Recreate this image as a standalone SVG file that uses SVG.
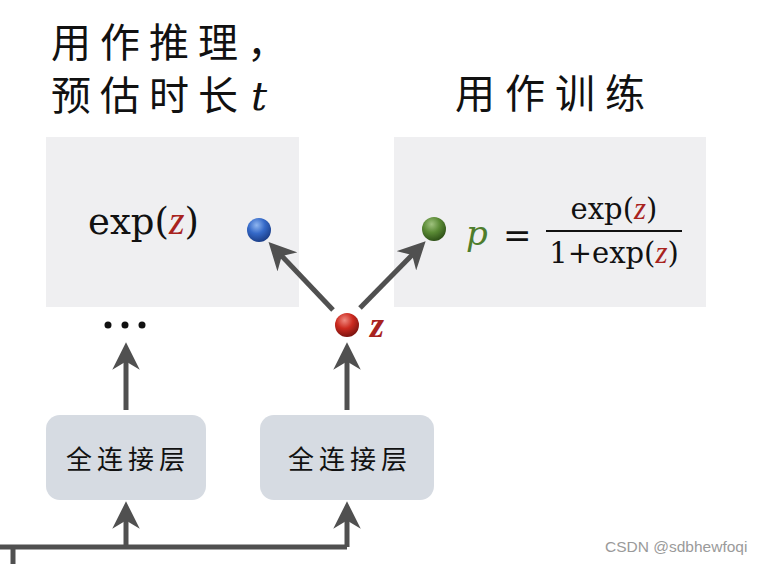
<svg xmlns="http://www.w3.org/2000/svg" width="760" height="564" viewBox="0 0 760 564">
<style>
.cjk{font-family:"Noto Sans CJK SC","Noto Sans",sans-serif;fill:#111}
.math{font-family:"DejaVu Serif","Liberation Serif",serif;fill:#111}
.zr{fill:#a8231e;font-style:italic;font-family:"Liberation Serif","DejaVu Serif",serif}
.panel{fill:#efeff1}
.box{fill:#d6dbe2}
.conn{stroke:#505050;stroke-width:5;fill:none}
</style>
<defs>
<marker id="ah" viewBox="0 0 10 10" refX="5" refY="5" markerWidth="5.5" markerHeight="5.5" orient="auto" markerUnits="strokeWidth">
<path d="M0,0 L10,5 L0,10 L3,5 Z" fill="#505050"/>
</marker>
<radialGradient id="gb" cx="0.4" cy="0.3" r="0.7"><stop offset="0" stop-color="#8fb6f0"/><stop offset="0.5" stop-color="#3569c8"/><stop offset="1" stop-color="#1c3f8a"/></radialGradient>
<radialGradient id="gg" cx="0.4" cy="0.3" r="0.7"><stop offset="0" stop-color="#9fc27e"/><stop offset="0.5" stop-color="#5a8a35"/><stop offset="1" stop-color="#2f5218"/></radialGradient>
<radialGradient id="gr" cx="0.4" cy="0.3" r="0.7"><stop offset="0" stop-color="#f08a80"/><stop offset="0.5" stop-color="#cc2a1f"/><stop offset="1" stop-color="#7d1410"/></radialGradient>
</defs>
<rect width="760" height="564" fill="#ffffff"/>

<g id="title-left">
<text class="cjk" x="51" y="57" font-size="40" letter-spacing="9">用作推理，</text>
<text class="cjk" x="51" y="110" font-size="40" letter-spacing="9">预估时长<tspan class="math" font-style="italic" font-size="40" dx="4">t</tspan></text>
</g>
<g id="title-right">
<text class="cjk" x="455" y="108" font-size="40" letter-spacing="10">用作训练</text>
</g>

<g id="panel-infer">
<rect class="panel" x="46" y="137" width="253" height="170"/>
<text class="math" x="88" y="234" font-size="37">exp(<tspan class="zr" font-size="40">z</tspan>)</text>
<circle cx="259" cy="230" r="12" fill="url(#gb)"/>
</g>

<g id="panel-train">
<rect class="panel" x="394" y="137" width="312" height="170"/>
<circle cx="434" cy="229" r="12" fill="url(#gg)"/>
<text class="math" x="466" y="245" font-size="34" font-style="italic" style="fill:#4e7d2c">p</text>
<text class="math" x="503" y="247" font-size="34">=</text>
<text class="math" x="614" y="219" font-size="29" text-anchor="middle">exp(<tspan class="zr" font-size="31">z</tspan>)</text>
<line x1="546" y1="231" x2="682" y2="231" stroke="#111" stroke-width="2"/>
<text class="math" x="614" y="263" font-size="29" text-anchor="middle">1+exp(<tspan class="zr" font-size="31">z</tspan>)</text>
</g>

<g id="node-z">
<circle cx="347" cy="325" r="12" fill="url(#gr)"/>
<text class="zr" x="370" y="337" font-size="36" font-weight="bold">z</text>
</g>

<g id="dots">
<circle cx="108" cy="325" r="3.5" fill="#111"/>
<circle cx="125" cy="325" r="3.5" fill="#111"/>
<circle cx="142" cy="325" r="3.5" fill="#111"/>
</g>

<g id="fc1">
<rect class="box" x="46" y="415" width="160" height="85" rx="14"/>
<text class="cjk" x="128" y="469" font-size="26" text-anchor="middle" letter-spacing="5">全连接层</text>
</g>
<g id="fc2">
<rect class="box" x="260" y="415" width="174" height="85" rx="14"/>
<text class="cjk" x="350" y="469" font-size="26" text-anchor="middle" letter-spacing="5">全连接层</text>
</g>

<g id="connectors">
<line class="conn" x1="333" y1="310" x2="278" y2="252" marker-end="url(#ah)"/>
<line class="conn" x1="360" y1="308" x2="416" y2="251" marker-end="url(#ah)"/>
<line class="conn" x1="126" y1="410" x2="126" y2="356" marker-end="url(#ah)"/>
<line class="conn" x1="347" y1="410" x2="347" y2="356" marker-end="url(#ah)"/>
<polyline class="conn" points="0,547 347,547"/>
<line class="conn" x1="13" y1="547" x2="13" y2="564"/>
<line class="conn" x1="126" y1="547" x2="126" y2="515" marker-end="url(#ah)"/>
<line class="conn" x1="347" y1="547" x2="347" y2="515" marker-end="url(#ah)"/>
</g>

<text x="605" y="552" font-family="Liberation Sans, Arial, sans-serif" font-size="15.5" fill="#9a9a9a">CSDN @sdbhewfoqi</text>
</svg>
